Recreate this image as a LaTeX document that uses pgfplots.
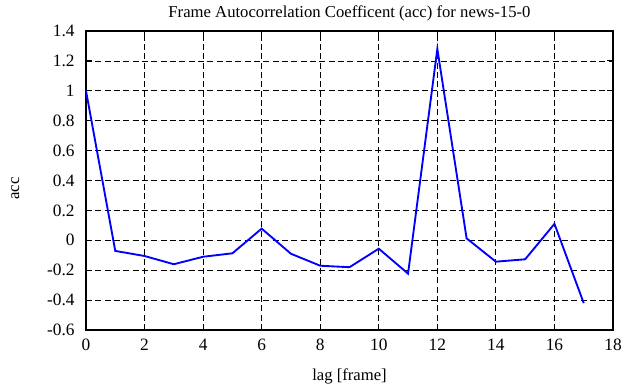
\documentclass[border=0pt]{standalone}
\usepackage{fontspec}
\setmainfont{Liberation Serif}
\usepackage{pgfplots}
\pgfplotsset{compat=1.18}
\begin{document}
\begin{tikzpicture}
\begin{axis}[
  at={(0,0)}, anchor=south west,
  scale only axis,
  width=395.25pt, height=224.25pt,
  xmin=0, xmax=18, ymin=-0.6, ymax=1.4,
  xtick={0,2,...,18},
  ytick={-0.6,-0.4,...,1.4},
  yticklabels={-0.6,-0.4,-0.2,0,0.2,0.4,0.6,0.8,1,1.2,1.4},
  /pgf/number format/assume math mode=true,
  tick label style={font=\fontsize{13}{15}\selectfont},
  xticklabel style={yshift=-3pt},
  yticklabel style={xshift=-5pt},
  label style={font=\fontsize{12.5}{14}\selectfont},
  xlabel style={yshift=-7pt},
  ylabel style={yshift=14pt, xshift=-6pt},
  title style={font=\fontsize{12.5}{14}\selectfont, yshift=-2pt},
  title={Frame Autocorrelation Coefficent (acc) for news-15-0},
  xlabel={lag [frame]},
  ylabel={acc},
  tick align=inside,
  major tick length=4.5pt,
  tick style={black, line width=0.8pt},
  axis line style={line width=1.2pt},
  grid=major,
  major grid style={black, dash pattern=on 4.5pt off 2.5pt, line width=0.6pt},
]
\addplot[blue, line width=1.4pt, mark=none] coordinates {
(0,1.0) (1,-0.071) (2,-0.105) (3,-0.16) (4,-0.11) (5,-0.087) (6,0.078) (7,-0.09) (8,-0.17) (9,-0.18) (10,-0.056) (11,-0.223) (12,1.28) (13,0.013) (14,-0.143) (15,-0.127) (16,0.11) (17,-0.42)
};
\end{axis}
\pgfresetboundingbox
\path (-64.5pt,-42.75pt) rectangle (403.5pt,247.5pt);
\end{tikzpicture}
\end{document}
